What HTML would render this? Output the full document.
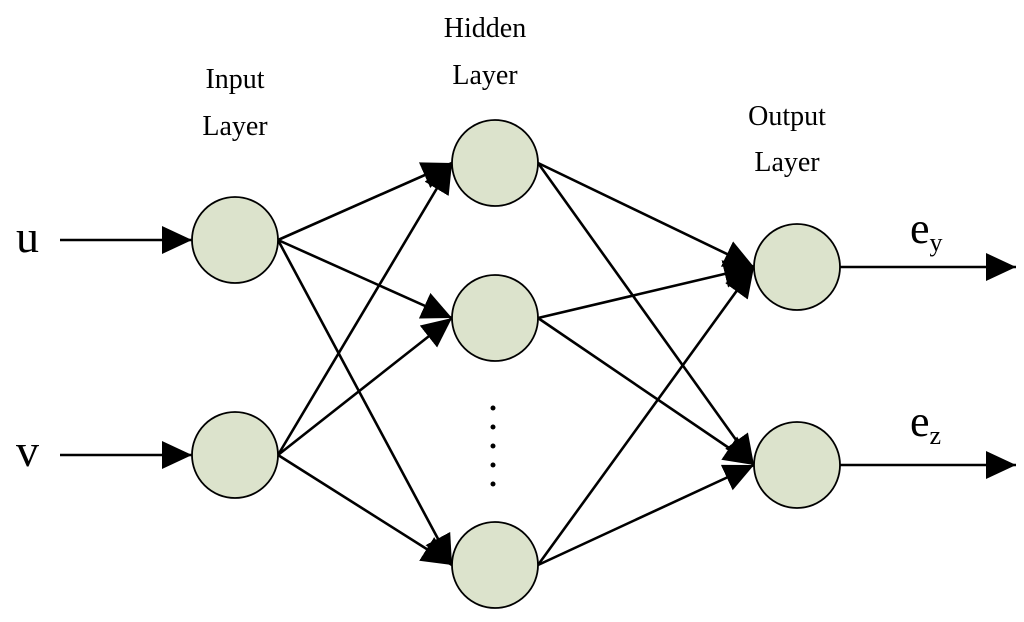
<!DOCTYPE html>
<html><head><style>html,body{margin:0;padding:0;background:#fff}svg{display:block}text{font-family:"Liberation Serif",serif;fill:#000}</style></head>
<body>
<svg id="s" width="1024" height="622" viewBox="0 0 1024 622">
<defs><marker id="a" markerUnits="userSpaceOnUse" markerWidth="32" markerHeight="30" refX="30" refY="14" orient="auto"><path d="M0,0 L30,14 L0,28 Z" fill="#000"/></marker></defs>
<g id="lines" stroke="#000" stroke-width="2.6" fill="none"></g>
<g id="nodes" fill="#dce3cc" stroke="#000" stroke-width="1.8"></g>
<text x="235" y="88" font-size="28" text-anchor="middle">Input</text>
<text x="235" y="135" font-size="28" text-anchor="middle">Layer</text>
<text x="485" y="37" font-size="28" text-anchor="middle">Hidden</text>
<text x="485" y="84" font-size="28" text-anchor="middle">Layer</text>
<text x="787" y="125" font-size="28" text-anchor="middle">Output</text>
<text x="787" y="171" font-size="28" text-anchor="middle">Layer</text>
<text x="16" y="252" font-size="46">u</text>
<text x="16" y="466" font-size="46">v</text>
<text x="910" y="243" font-size="44">e<tspan font-size="26" dy="8">y</tspan></text>
<text x="910" y="436" font-size="44">e<tspan font-size="26" dy="8">z</tspan></text>
<g fill="#000"><circle cx="493" cy="408" r="2.5"/><circle cx="493" cy="427" r="2.5"/><circle cx="493" cy="446" r="2.5"/><circle cx="493" cy="465" r="2.5"/><circle cx="493" cy="484" r="2.5"/></g>
</svg>
<script>
var R=43,inp=[[235,240],[235,455]],hid=[[495,163],[495,318],[495,565]],out=[[797,267],[797,465]];
var L=document.getElementById('lines'),N=document.getElementById('nodes'),ns='http://www.w3.org/2000/svg';
function line(x1,y1,x2,y2){var l=document.createElementNS(ns,'line');l.setAttribute('x1',x1);l.setAttribute('y1',y1);l.setAttribute('x2',x2);l.setAttribute('y2',y2);l.setAttribute('marker-end','url(#a)');L.appendChild(l);}
function conn(a,b){line(a[0]+R,a[1],b[0]-R,b[1]);}
line(60,240,192,240);line(60,455,192,455);
inp.forEach(function(a){hid.forEach(function(b){conn(a,b);});});
hid.forEach(function(a){out.forEach(function(b){conn(a,b);});});
line(840,267,1016,267);line(840,465,1016,465);
inp.concat(hid,out).forEach(function(c){var e=document.createElementNS(ns,'circle');e.setAttribute('cx',c[0]);e.setAttribute('cy',c[1]);e.setAttribute('r',R);N.appendChild(e);});
</script>
</body></html>
